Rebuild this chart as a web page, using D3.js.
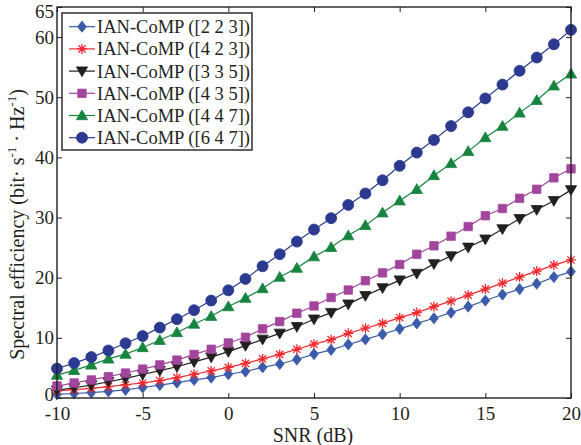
<!DOCTYPE html>
<html>
<head>
<meta charset="utf-8">
<script src="https://cdn.jsdelivr.net/npm/d3@7/dist/d3.min.js"></script>
<style>
  html, body { margin: 0; padding: 0; background: #fff; }
  svg text { font-family: "Liberation Serif", "Times New Roman", serif; fill: #231f20; }
</style>
</head>
<body>
<svg id="chart" width="581" height="445"></svg>
<script>
// SNR sweep in dB
const snr = d3.range(-10, 21, 1);

// Spectral efficiency for each antenna configuration
const se223 = [0.6, 0.75, 0.9, 1.1, 1.35, 1.75, 2.15, 2.55, 3.0, 3.4, 3.95, 4.4, 5.1, 5.65, 6.4, 7.3, 8.0, 8.9, 9.75, 10.6, 11.5, 12.4, 13.25, 14.2, 15.2, 16.2, 17.2, 18.1, 19.0, 20.1, 21.0];
const se423 = [1.2, 1.4, 1.6, 1.9, 2.2, 2.5, 2.9, 3.4, 3.95, 4.5, 5.1, 5.75, 6.5, 7.25, 8.1, 8.95, 9.7, 10.75, 11.6, 12.4, 13.35, 14.2, 15.2, 16.1, 17.1, 18.1, 19.1, 20.1, 21.1, 22.1, 22.95];
const se335 = [1.3, 1.7, 2.15, 2.7, 3.25, 3.9, 4.55, 5.2, 6.0, 6.8, 7.7, 8.7, 9.75, 10.75, 11.85, 13.1, 14.2, 15.6, 17.0, 18.3, 19.6, 20.7, 22.3, 23.6, 25.05, 26.4, 28.1, 29.8, 31.3, 32.8, 34.6];
const se435 = [2.0, 2.5, 3.0, 3.55, 4.15, 4.8, 5.5, 6.3, 7.25, 8.1, 9.15, 10.1, 11.5, 12.7, 14.1, 15.3, 16.7, 17.95, 19.5, 20.8, 22.2, 23.9, 25.3, 26.9, 28.5, 30.3, 31.5, 33.2, 34.7, 36.6, 38.1];
const se447 = [3.8, 4.6, 5.5, 6.5, 7.3, 8.4, 9.6, 10.9, 12.3, 13.6, 15.2, 16.6, 18.2, 20.1, 21.6, 23.5, 25.05, 27.0, 28.7, 30.8, 32.8, 34.7, 37.0, 39.0, 41.0, 43.3, 45.2, 47.4, 49.5, 51.9, 53.9];
const se647 = [4.9, 5.8, 6.8, 7.9, 9.1, 10.3, 11.7, 13.1, 14.6, 16.2, 17.9, 19.8, 21.9, 23.9, 26.0, 28.0, 29.9, 32.1, 34.0, 36.2, 38.6, 40.8, 42.9, 45.2, 47.5, 49.8, 52.1, 54.4, 56.6, 58.8, 61.2];

const seriesNames = ["IAN-CoMP ([2 2 3])", "IAN-CoMP ([4 2 3])", "IAN-CoMP ([3 3 5])",
                     "IAN-CoMP ([4 3 5])", "IAN-CoMP ([4 4 7])", "IAN-CoMP ([6 4 7])"];
const seriesValues = [se223, se423, se335, se435, se447, se647];
const seriesColors = ["#3a5ba9", "#ee2a2f", "#231f20", "#a2459c", "#17853f", "#2b3990"];
const seriesMarkers = ["diamond", "star", "triangleDown", "square", "triangleUp", "circle"];

const xTicks = [-10, -5, 0, 5, 10, 15, 20];
const yTicks = [0, 10, 20, 30, 40, 50, 60, 65];

const svg = d3.select("#chart");
const plotLeft = 57, plotRight = 571, plotTop = 7, plotBottom = 398;

const x = d3.scaleLinear().domain([-10, 20]).range([plotLeft, plotRight]);
const y = d3.scaleLinear().domain([0, 65]).range([plotBottom, plotTop]);

const axisColor = "#231f20";
const tickLen = 5;
const plainNumber = d => String(d);   // hyphen-minus, as in the printed figure

// frame ticks: inward on all four sides
const g = svg.append("g");
const xAxisB = d3.axisBottom(x).tickValues(xTicks).tickSize(-tickLen).tickPadding(9).tickFormat(plainNumber);
const xAxisT = d3.axisTop(x).tickValues(xTicks).tickSize(-tickLen).tickFormat("");
const yAxisL = d3.axisLeft(y).tickValues(yTicks).tickSize(-tickLen).tickPadding(3).tickFormat(plainNumber);
const yAxisR = d3.axisRight(y).tickValues(yTicks).tickSize(-tickLen).tickFormat("");

function styleAxis(sel) {
  sel.select(".domain").remove();
  sel.selectAll(".tick line").attr("stroke", axisColor).attr("stroke-width", 1);
  sel.selectAll(".tick text").style("font-size", "19px").attr("fill", axisColor)
    .attr("font-family", "Liberation Serif");
}
g.append("g").attr("transform", `translate(0,${plotBottom})`).call(xAxisB).call(styleAxis);
g.append("g").attr("transform", `translate(0,${plotTop})`).call(xAxisT).call(styleAxis);
const yAxisG = g.append("g").attr("transform", `translate(${plotLeft},0)`).call(yAxisL).call(styleAxis);
// keep the topmost label inside the page, the zero label tucked above the x labels
yAxisG.selectAll(".tick text").filter(d => d === 65).attr("dy", "0.55em");
yAxisG.selectAll(".tick text").filter(d => d === 0).attr("dy", "0.15em");
g.append("g").attr("transform", `translate(${plotRight},0)`).call(yAxisR).call(styleAxis);

// curves
const line = d3.line().x((d, i) => x(snr[i])).y(d => y(d));

function markerPath(kind) {
  switch (kind) {
    case "diamond": return "M0,-5.6L4.4,0L0,5.6L-4.4,0Z";
    case "square": return "M-4.2,-4.2H4.2V4.2H-4.2Z";
    case "circle": return d3.symbol(d3.symbolCircle, 95)();
    case "triangleUp": return "M0,-5.6L5.6,4.2L-5.6,4.2Z";
    case "triangleDown": return "M0,5.6L5.6,-4.2L-5.6,-4.2Z";
    case "star": return "M-5,0L5,0M0,-5L0,5M-3.6,-3.6L3.6,3.6M-3.6,3.6L3.6,-3.6";
  }
}

function drawMarker(sel, kind, color) {
  const p = sel.append("path").attr("d", markerPath(kind));
  if (kind === "star") p.attr("fill", "none").attr("stroke", color).attr("stroke-width", 1.3);
  else p.attr("fill", color).attr("stroke", color).attr("stroke-width", 0.8);
}

const plot = svg.append("g");
seriesValues.forEach((vals, k) => {
  plot.append("path").datum(vals).attr("d", line)
    .attr("fill", "none").attr("stroke", seriesColors[k]).attr("stroke-width", 1.2);
  vals.forEach((v, i) => {
    const m = plot.append("g").attr("transform", `translate(${x(snr[i])},${y(v)})`);
    drawMarker(m, seriesMarkers[k], seriesColors[k]);
  });
});

// axes box drawn above the data
svg.append("rect").attr("x", plotLeft).attr("y", plotTop)
  .attr("width", plotRight - plotLeft).attr("height", plotBottom - plotTop)
  .attr("fill", "none").attr("stroke", axisColor).attr("stroke-width", 1.4);

// legend
const lg = svg.append("g");
const lgX = 62, lgY = 13, lgW = 190, lgH = 137;
lg.append("rect").attr("x", lgX).attr("y", lgY).attr("width", lgW).attr("height", lgH)
  .attr("fill", "#fff").attr("stroke", axisColor).attr("stroke-width", 1.4);
const rowY = d3.scaleLinear().domain([0, 5]).range([26.7, 137.7]);
seriesNames.forEach((name, k) => {
  const yy = rowY(k);
  lg.append("line").attr("x1", 69).attr("x2", 95).attr("y1", yy).attr("y2", yy)
    .attr("stroke", seriesColors[k]).attr("stroke-width", 1.2);
  const m = lg.append("g").attr("transform", `translate(82,${yy})`);
  drawMarker(m, seriesMarkers[k], seriesColors[k]);
  lg.append("text").attr("x", 97).attr("y", yy).attr("dy", "0.35em")
    .style("font-size", "18.5px").text(name);
});

// axis titles
svg.append("text").attr("x", (plotLeft + plotRight) / 2 - 1).attr("y", 442)
  .attr("text-anchor", "middle").style("font-size", "20px").text("SNR (dB)");

const yl = svg.append("text")
  .attr("transform", `translate(24,${(plotTop + plotBottom) / 2 + 22}) rotate(-90)`)
  .attr("text-anchor", "middle").style("font-size", "20px");
yl.append("tspan").text("Spectral efficiency (bit· s");
yl.append("tspan").attr("dy", -8).style("font-size", "13px").text("-1");
yl.append("tspan").attr("dy", 8).text(" · Hz");
yl.append("tspan").attr("dy", -8).style("font-size", "13px").text("-1");
yl.append("tspan").attr("dy", 8).text(")");
</script>
</body>
</html>
